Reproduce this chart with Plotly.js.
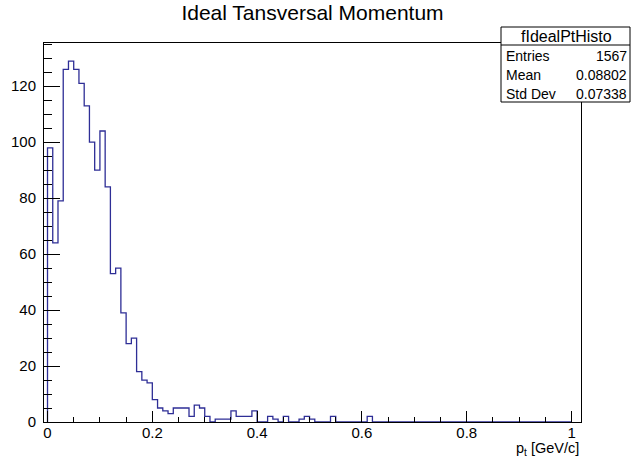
<!DOCTYPE html>
<html>
<head>
<meta charset="utf-8">
<script src="https://cdn.plot.ly/plotly-3.0.1.min.js"></script>
<style>html,body{margin:0;padding:0;background:#fff;}#chart{width:631px;height:462px;}</style>
</head>
<body>
<div id="chart"></div>
<script>
// Histogram: 100 bins of width 0.01 from 0 to 1
const binLow = 0.0;
const binWidth = 0.01;
const counts = [
  98, 64, 79, 126, 129, 126, 121, 113, 100, 90,
  104, 84, 53, 55, 39, 28, 30, 18, 15, 14,
  8, 5, 4, 3, 5, 5, 5, 2, 6, 5,
  2, 0, 1, 1, 1, 4, 2, 2, 2, 4,
  0, 0, 2, 1, 0, 2, 0, 0, 1, 2,
  1, 0, 0, 0, 2, 0, 0, 0, 0, 0,
  0, 2, 0, 0, 0, 0, 0, 0, 0, 0,
  0, 0, 0, 0, 0, 0, 0, 0, 0, 0,
  0, 0, 0, 0, 0, 0, 0, 0, 0, 0,
  0, 0, 0, 0, 0, 0, 0, 0, 0, 0
];
const xTickVals = [0, 0.2, 0.4, 0.6, 0.8, 1];
const xTickText = ["0", "0.2", "0.4", "0.6", "0.8", "1"];
const yTickVals = [0, 20, 40, 60, 80, 100, 120];
const statsName = "fIdealPtHisto";
const statsLabels = ["Entries", "Mean", "Std Dev"];
const statsValues = ["1567", "0.08802", "0.07338"];
const titleText = "Ideal Tansversal Momentum";
const xTitleText = "p<sub>t</sub> [GeV/c]";

// Build step outline from bin edges
const xs = [binLow];
const ys = [0];
for (let i = 0; i < counts.length; i++) {
  xs.push(binLow + i * binWidth);
  ys.push(counts[i]);
}
xs.push(binLow + counts.length * binWidth);
ys.push(counts[counts.length - 1]);
xs.push(binLow + counts.length * binWidth);
ys.push(0);

const W = 631, H = 462;
const mL = 44, mR = 50, mT = 43, mB = 40;
const pw = W - mL - mR, ph = H - mT - mB;
const px = p => (p - mL) / pw;
const py = p => (H - mB - p) / ph;

const FONT = "Liberation Sans, Arial, Helvetica, sans-serif";
const lineCol = "#2e2e96";

const trace = {
  x: xs, y: ys, type: "scatter", mode: "lines",
  line: {shape: "hv", color: lineCol, width: 1.3},
  hoverinfo: "skip", showlegend: false
};

const bx0 = 501, bx1 = 630, by0 = 27, byDiv = 45, by1 = 102;
const shapes = [
  {type: "rect", xref: "paper", yref: "paper", x0: px(bx0), x1: px(bx1), y0: py(by1), y1: py(by0),
   line: {color: "#000", width: 1}, fillcolor: "#fff", layer: "above"},
  {type: "line", xref: "paper", yref: "paper", x0: px(bx0), x1: px(bx1), y0: py(byDiv), y1: py(byDiv),
   line: {color: "#000", width: 1}, layer: "above"}
];

const annotations = [
  {text: statsName, xref: "paper", yref: "paper", x: px((bx0 + bx1) / 2 + 1), y: py(36),
   xanchor: "center", yanchor: "middle", showarrow: false, font: {family: FONT, size: 16, color: "#000"}}
];
const rowY = [56, 75, 94];
for (let i = 0; i < statsLabels.length; i++) {
  annotations.push({text: statsLabels[i], xref: "paper", yref: "paper", x: px(504), y: py(rowY[i]),
    xanchor: "left", yanchor: "middle", showarrow: false, font: {family: FONT, size: 14, color: "#000"}});
  annotations.push({text: statsValues[i], xref: "paper", yref: "paper", x: px(629), y: py(rowY[i]),
    xanchor: "right", yanchor: "middle", showarrow: false, font: {family: FONT, size: 14, color: "#000"}});
}
annotations.push({text: xTitleText, xref: "paper", yref: "paper", x: px(581), y: py(449),
  xanchor: "right", yanchor: "middle", showarrow: false, font: {family: FONT, size: 14.5, color: "#000"}});

const layout = {
  width: W, height: H,
  margin: {l: mL, r: mR, t: mT, b: mB, pad: 0},
  paper_bgcolor: "#fff", plot_bgcolor: "#fff",
  title: {text: titleText, xref: "container", x: 312.5 / W, xanchor: "center", y: 1 - 13 / H, yanchor: "middle",
          font: {family: FONT, size: 21, color: "#000"}},
  xaxis: {
    range: [-0.0067, 1.018], showgrid: false, zeroline: false,
    showline: true, mirror: true, linecolor: "#000", linewidth: 1,
    ticks: "inside", ticklen: 11, tickcolor: "#000", tickwidth: 1,
    tickvals: xTickVals, ticktext: xTickText, ticklabelstandoff: -3,
    minor: {ticks: "inside", ticklen: 5.5, dtick: 0.05, tick0: 0, tickcolor: "#000", tickwidth: 1, showgrid: false},
    tickfont: {family: FONT, size: 15, color: "#000"}
  },
  yaxis: {
    range: [0, 135.45], showgrid: false, zeroline: false,
    showline: true, mirror: true, linecolor: "#000", linewidth: 1,
    ticks: "inside", ticklen: 16, tickcolor: "#000", tickwidth: 1,
    tickvals: yTickVals, ticklabelstandoff: 4,
    minor: {ticks: "inside", ticklen: 8, dtick: 5, tick0: 0, tickcolor: "#000", tickwidth: 1, showgrid: false},
    tickfont: {family: FONT, size: 15, color: "#000"}
  },
  shapes: shapes,
  annotations: annotations
};

Plotly.newPlot("chart", [trace], layout, {staticPlot: true, displayModeBar: false});
</script>
</body>
</html>
